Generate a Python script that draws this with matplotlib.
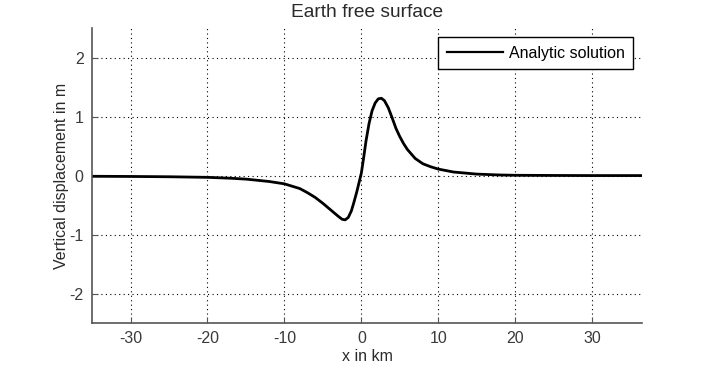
import matplotlib
matplotlib.use("Agg")
import matplotlib.pyplot as plt

x_km = [-35, -30, -25, -20, -17, -15, -12, -10, -8, -7, -6, -5, -4, -3,
        -2.5, -2.1, -1.7, -1.3, -1.0, -0.6, -0.3, 0, 0.3, 0.6, 1, 1.4,
        1.8, 2.2, 2.6, 3, 3.5, 4, 4.5, 5, 5.5, 6, 7, 8, 9, 10, 12, 15,
        18, 20, 25, 30, 36.5]
disp_m = [-0.012, -0.015, -0.02, -0.03, -0.045, -0.06, -0.1, -0.14, -0.22,
          -0.29, -0.37, -0.47, -0.58, -0.69, -0.74, -0.75, -0.71, -0.6,
          -0.47, -0.28, -0.12, 0.04, 0.3, 0.58, 0.88, 1.1, 1.23, 1.3, 1.31,
          1.27, 1.15, 0.98, 0.8, 0.66, 0.54, 0.44, 0.29, 0.2, 0.15, 0.11,
          0.06, 0.025, 0.01, 0.005, 0.002, 0.0, 0.0]
x_ticks = [-30, -20, -10, 0, 10, 20, 30]
y_ticks = [-2, -1, 0, 1, 2]

plt.rcParams['font.family'] = ['Liberation Sans', 'DejaVu Sans']
plt.rcParams['font.size'] = 11.5
plt.rcParams['axes.unicode_minus'] = False

fig = plt.figure(figsize=(7.08, 3.71), dpi=100)
ax = fig.add_axes([0.13, 0.129, 0.777, 0.7955])

ax.plot(x_km, disp_m, color='black', lw=2, label='Analytic solution')

ax.set_xlim(-35, 36.5)
ax.set_ylim(-2.5, 2.5)
ax.set_xticks(x_ticks)
ax.set_yticks(y_ticks)
ax.grid(True, color='black', linestyle=(0, (1, 3)), lw=0.8)
ax.tick_params(direction='in', length=4, colors='#555555', labelcolor='#3a3a3a', pad=6)

for side in ['top', 'right']:
    ax.spines[side].set_visible(False)
for side in ['left', 'bottom']:
    ax.spines[side].set_color('#555555')
    ax.spines[side].set_linewidth(1.2)

ax.set_title('Earth free surface', color='#2a2a2a', pad=8)
ax.set_xlabel('x in km', color='#2a2a2a', labelpad=2)
ax.set_ylabel('Vertical displacement in m', color='#2a2a2a', labelpad=0)

leg = ax.legend(loc='upper right', frameon=True, fancybox=False, handlelength=3.5,
                borderpad=0.55, handletextpad=0.35, borderaxespad=0.55)
leg.get_frame().set_edgecolor('black')
leg.get_frame().set_linewidth(1.0)
leg.get_frame().set_alpha(1)
leg.get_lines()[0].set_linewidth(1.6)

fig.savefig('out.png', dpi=100)
